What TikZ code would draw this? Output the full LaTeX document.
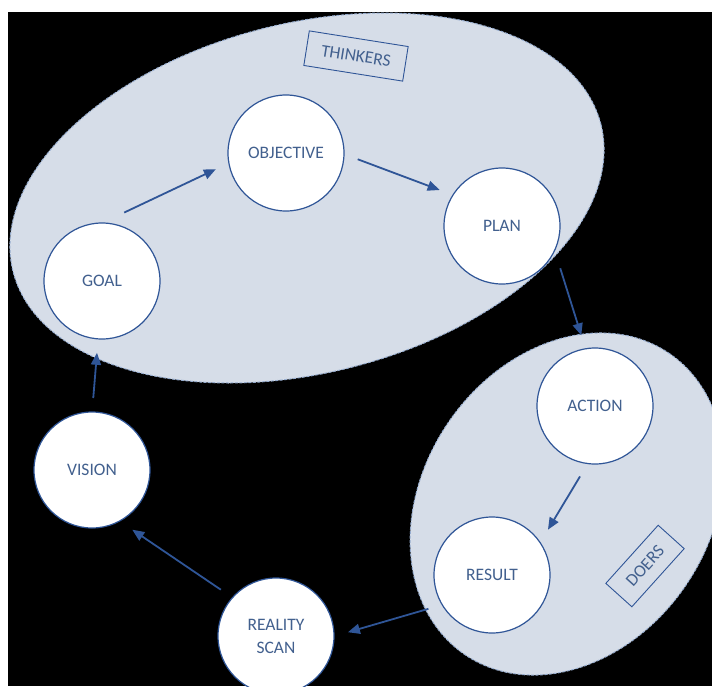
\documentclass[tikz,border=0pt]{standalone}
\usepackage{fontspec}
\setmainfont{Carlito}
\usepackage{xcolor}
\usepackage{tikz}
\usetikzlibrary{arrows.meta, positioning, calc}
\definecolor{stageblue}{RGB}{47, 85, 151}
\definecolor{labelblue}{RGB}{66, 96, 142}
\definecolor{cloudfill}{RGB}{214, 221, 232}
\definecolor{cloudedge}{RGB}{150, 172, 206}
\tikzset{
    stage/.style={circle, fill=white, draw=stageblue, line width=1.2pt, minimum size=116pt, inner sep=0pt, outer sep=14pt, text=labelblue, font=\fontsize{17.5}{23}\selectfont, align=center},
    flow/.style={draw=stageblue, line width=1.8pt, -{Triangle[length=12pt, width=10pt]}},
    tag/.style={draw=stageblue, line width=0.9pt, text=labelblue, font=\fontsize{17.5}{20}\selectfont, inner xsep=15pt, minimum height=35pt},
    cloud/.style={fill=cloudfill, draw=cloudedge, line width=1pt, dash pattern=on 3pt off 1.5pt}
}

\begin{document}
\begin{tikzpicture}[x=1pt, y=-1pt]
    % Page and backdrop
    \useasboundingbox (0,0) rectangle (712,686);
    \fill[white] (0,0) rectangle (712,686);
    \fill[black] (8,12) rectangle (712,686);

    \begin{scope}
    \clip (8,12) rectangle (712,686);

    % Groups
    \path[cloud, shift={(307,198)}, rotate=14] (0,0) ellipse [x radius=303, y radius=175];
    \path[cloud, shift={(567,504)}, rotate=56] (0,0) ellipse [x radius=182, y radius=144];

    % Group labels
    \node[tag, rotate=-9] (thinkers) at (356,56) {THINKERS};
    \node[tag, rotate=48] (doers) at (645,566) {DOERS};

    % Stages
    \node[stage] (objective) at (286,153) {OBJECTIVE};
    \node[stage] (plan) at (502,226) {PLAN};
    \node[stage] (goal) at (102,281) {GOAL};
    \node[stage] (action) at (595,406) {ACTION};
    \node[stage] (vision) at (92,470) {VISION};
    \node[stage] (result) at (492,575) {RESULT};
    \node[stage] (reality) at (276,636) {REALITY\\SCAN};

    % Cycle
    \draw[flow] (goal.72) -- (objective.193);
    \draw[flow] (objective.-5) -- (plan.150);
    \draw[flow] (plan.-36) -- (action.101);
    \draw[flow] (action.258) -- (result.39);
    \draw[flow] (result.208) -- (reality.3);
    \draw[flow] (reality.140) -- (vision.-56);
    \draw[flow] (vision.89) -- (goal.266);
    \end{scope}
\end{tikzpicture}
\end{document}
